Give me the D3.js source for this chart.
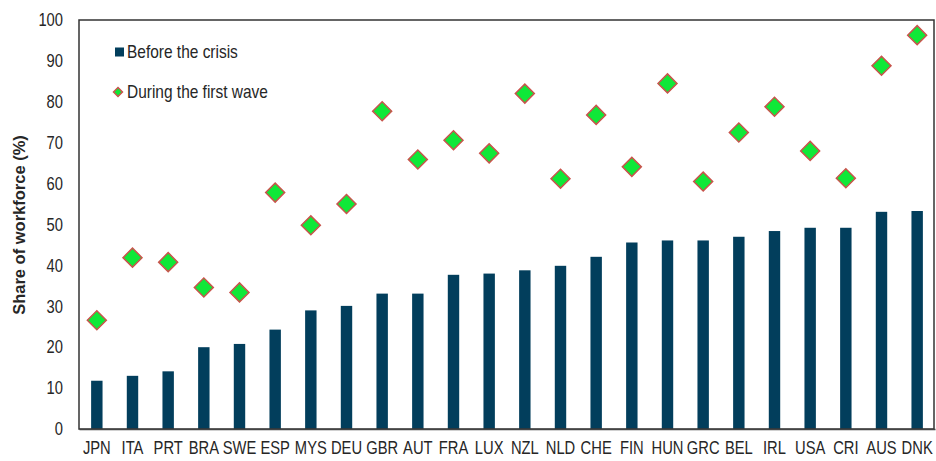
<!DOCTYPE html>
<html>
<head>
<meta charset="utf-8">
<script src="https://cdn.jsdelivr.net/npm/d3@7"></script>
<style>
  html, body { margin: 0; padding: 0; background: #fff; }
  svg { display: block; }
  text { font-family: "Liberation Sans", Arial, sans-serif; fill: #262626; }
</style>
</head>
<body>
<svg id="chart" width="936" height="461"></svg>
<script>
const categories = ["JPN","ITA","PRT","BRA","SWE","ESP","MYS","DEU","GBR","AUT","FRA","LUX","NZL","NLD","CHE","FIN","HUN","GRC","BEL","IRL","USA","CRI","AUS","DNK"];
const beforeCrisis = [11.8,13.0,14.1,20.0,20.8,24.3,29.0,30.1,33.1,33.1,37.7,38.0,38.8,39.9,42.1,45.6,46.1,46.1,47.0,48.4,49.2,49.2,53.1,53.3];
const firstWave = [26.6,41.9,40.8,34.6,33.4,57.8,49.8,55.0,77.7,65.9,70.6,67.4,82.0,61.2,76.8,64.1,84.5,60.5,72.5,78.8,68.0,61.3,88.8,96.3];
const yTicks = [0,10,20,30,40,50,60,70,80,90,100];
const seriesNames = ["Before the crisis","During the first wave"];

const barColor = "#023e5c";
const diamondFill = "#0fe838";
const diamondStroke = "#c8544c";
const narrow = 0.82;

const svg = d3.select("#chart");
const mLeft = 79, mRight = 934, mTop = 20, mBottom = 429;

const x = d3.scaleBand().domain(categories).range([mLeft, mRight + 1]).paddingInner(0.68).paddingOuter(0.34);
const y = d3.scaleLinear().domain([0, 100]).range([mBottom, mTop]);

// bars
svg.append("g").selectAll("rect").data(categories).join("rect")
  .attr("x", (d) => x(d))
  .attr("width", x.bandwidth())
  .attr("y", (d, i) => y(beforeCrisis[i]))
  .attr("height", (d, i) => y(0) - y(beforeCrisis[i]))
  .attr("fill", barColor);

// frame
svg.append("rect")
  .attr("x", mLeft).attr("y", mTop)
  .attr("width", mRight - mLeft).attr("height", mBottom - mTop)
  .attr("fill", "none").attr("stroke", "#333").attr("stroke-width", 1.5);

// y axis
const yAxis = d3.axisLeft(y).tickValues(yTicks).tickSize(0).tickPadding(16 / narrow);
const gy = svg.append("g").attr("transform", `translate(${mLeft},0)`).call(yAxis);
gy.select(".domain").remove();
gy.selectAll("text").attr("font-size", 18).attr("fill", "#333")
  .attr("transform", `scale(${narrow},1)`)
  .style("font-family", '"Liberation Sans", Arial, sans-serif');

// x axis
const xAxis = d3.axisBottom(x).tickSize(0).tickPadding(12);
const gx = svg.append("g").attr("transform", `translate(0,${mBottom})`).call(xAxis);
gx.select(".domain").attr("stroke", "#444").attr("stroke-width", 1.5);
gx.selectAll("text").attr("font-size", 18).attr("fill", "#333")
  .attr("transform", `scale(${narrow},1)`)
  .style("font-family", '"Liberation Sans", Arial, sans-serif');

// diamonds
const diamond = d3.symbol().type(d3.symbolSquare).size(180);
svg.append("g").selectAll("path").data(categories).join("path")
  .attr("d", diamond)
  .attr("transform", (d, i) => `translate(${x(d) + x.bandwidth() / 2},${y(firstWave[i])}) rotate(45)`)
  .attr("fill", diamondFill)
  .attr("stroke", diamondStroke)
  .attr("stroke-width", 1.5);

// y title
svg.append("text")
  .attr("transform", "translate(25,225) rotate(-90)")
  .attr("text-anchor", "middle")
  .attr("font-size", 16.5)
  .attr("font-weight", "bold")
  .text("Share of workforce (%)");

// legend
const lg = svg.append("g");
lg.append("rect").attr("x", 115).attr("y", 47.5).attr("width", 9).attr("height", 9).attr("fill", barColor);
lg.append("text").attr("transform", "translate(127,58) scale(0.86,1)").attr("font-size", 18).attr("fill", "#333").text(seriesNames[0]);
lg.append("path").attr("d", d3.symbol().type(d3.symbolSquare).size(40))
  .attr("transform", "translate(118,92) rotate(45)")
  .attr("fill", diamondFill).attr("stroke", diamondStroke).attr("stroke-width", 1.5);
lg.append("text").attr("transform", "translate(127,98) scale(0.86,1)").attr("font-size", 18).attr("fill", "#333").text(seriesNames[1]);
</script>
</body>
</html>
